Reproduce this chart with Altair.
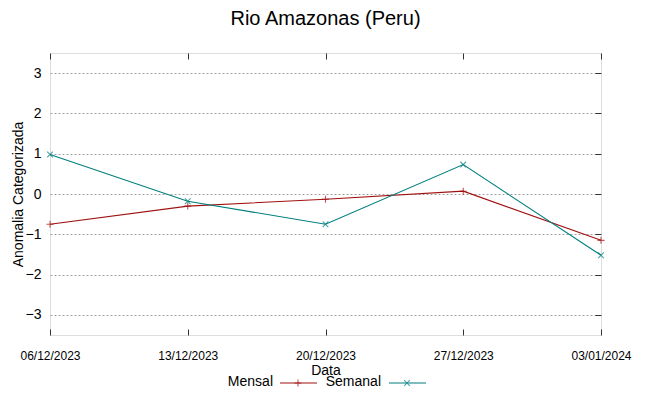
import altair as alt
import pandas as pd

dates = ["06/12/2023", "13/12/2023", "20/12/2023", "27/12/2023", "03/01/2024"]
mensal = [-0.75, -0.30, -0.13, 0.07, -1.15]
semanal = [0.98, -0.18, -0.75, 0.73, -1.52]
series = ["Mensal", "Semanal"]
colors = ["#a01010", "#007f7f"]
y_ticks = [-3, -2, -1, 0, 1, 2, 3]

rows = []
for d, m, s in zip(dates, mensal, semanal):
    rows.append({"Data": d, "serie": "Mensal", "valor": m})
    rows.append({"Data": d, "serie": "Semanal", "valor": s})
df = pd.DataFrame(rows)

plus = "M-1,0L1,0M0,-1L0,1"
cross = "M-0.8,-0.8L0.8,0.8M-0.8,0.8L0.8,-0.8"

xscale = alt.Scale(type="point", padding=0)
yscale = alt.Scale(domain=[-3.5, 3.5], nice=False, zero=False)
color = alt.Color("serie:N", scale=alt.Scale(domain=series, range=colors), legend=None)

base = alt.Chart(df)

lines = base.mark_line(strokeWidth=1.1).encode(
    x=alt.X("Data:O", sort=dates, scale=xscale,
            axis=alt.Axis(orient="bottom", title="Data", labelAngle=0,
                          labelFont="Liberation Sans", labelFontSize=12,
                          labelColor="#000", ticks=True, tickSize=6, tickColor="#333",
                          offset=-6, domain=False, labelPadding=15, grid=False,
                          titleFont="Liberation Sans", titleFontSize=14,
                          titleFontWeight="normal", titlePadding=2, titleColor="#000")),
    y=alt.Y("valor:Q", scale=yscale,
            axis=alt.Axis(orient="left", title="Anomalia Categorizada", values=y_ticks,
                          labelFont="Liberation Sans", labelFontSize=14, labelColor="#000",
                          ticks=False, labelPadding=9, domain=False,
                          grid=True, gridColor="#a0a0a0", gridDash=[2, 2], gridWidth=1,
                          titleFont="Liberation Sans", titleFontSize=14,
                          titleFontWeight="normal", titleColor="#000",
                          titleX=-32, titleY=141, titleAngle=-90,
                          titleAlign="center", titleBaseline="middle")),
    color=color,
)

points = base.mark_point(size=50, filled=False, strokeWidth=1.1).encode(
    x=alt.X("Data:O", sort=dates, scale=xscale,
            axis=alt.Axis(orient="top", title=None, labels=False, ticks=True, tickSize=6,
                          tickColor="#333", offset=-6, domain=False, grid=False)),
    y=alt.Y("valor:Q", scale=yscale,
            axis=alt.Axis(orient="right", title=None, labels=False, values=y_ticks,
                          ticks=True, tickSize=6, tickColor="#333", offset=-6,
                          domain=False, grid=False)),
    color=color,
    shape=alt.Shape("serie:N", scale=alt.Scale(domain=series, range=[plus, cross]), legend=None),
)

one = pd.DataFrame({"k": [1]})
lg = alt.Chart(one)
legend_layers = [
    lg.mark_text(text="Mensal", align="right", baseline="middle", fontSize=14,
                 font="Liberation Sans", color="#000").encode(x=alt.value(223), y=alt.value(329)),
    lg.mark_rule(color=colors[0], strokeWidth=1.1).encode(x=alt.value(230), x2=alt.value(267), y=alt.value(330)),
    lg.mark_point(shape=plus, size=50, color=colors[0], strokeWidth=1.1).encode(x=alt.value(248), y=alt.value(330)),
    lg.mark_text(text="Semanal", align="right", baseline="middle", fontSize=14,
                 font="Liberation Sans", color="#000").encode(x=alt.value(331), y=alt.value(329)),
    lg.mark_rule(color=colors[1], strokeWidth=1.1).encode(x=alt.value(339), x2=alt.value(376), y=alt.value(330)),
    lg.mark_point(shape=cross, size=50, color=colors[1], strokeWidth=1.1).encode(x=alt.value(357), y=alt.value(330)),
]

chart = alt.layer(lines, points, *legend_layers).properties(
    width=551, height=282,
    title=alt.TitleParams("Rio Amazonas (Peru)", fontSize=20, font="Liberation Sans",
                          fontWeight="normal", anchor="middle", offset=24, color="#000"),
    autosize=alt.AutoSizeParams(type="none"),
    padding={"left": 42, "top": 45, "right": 40, "bottom": 57},
).configure_view(stroke="#555555", strokeWidth=1).configure(background="white")

chart.save("out.html", embed_options={"renderer": "svg", "actions": False})
